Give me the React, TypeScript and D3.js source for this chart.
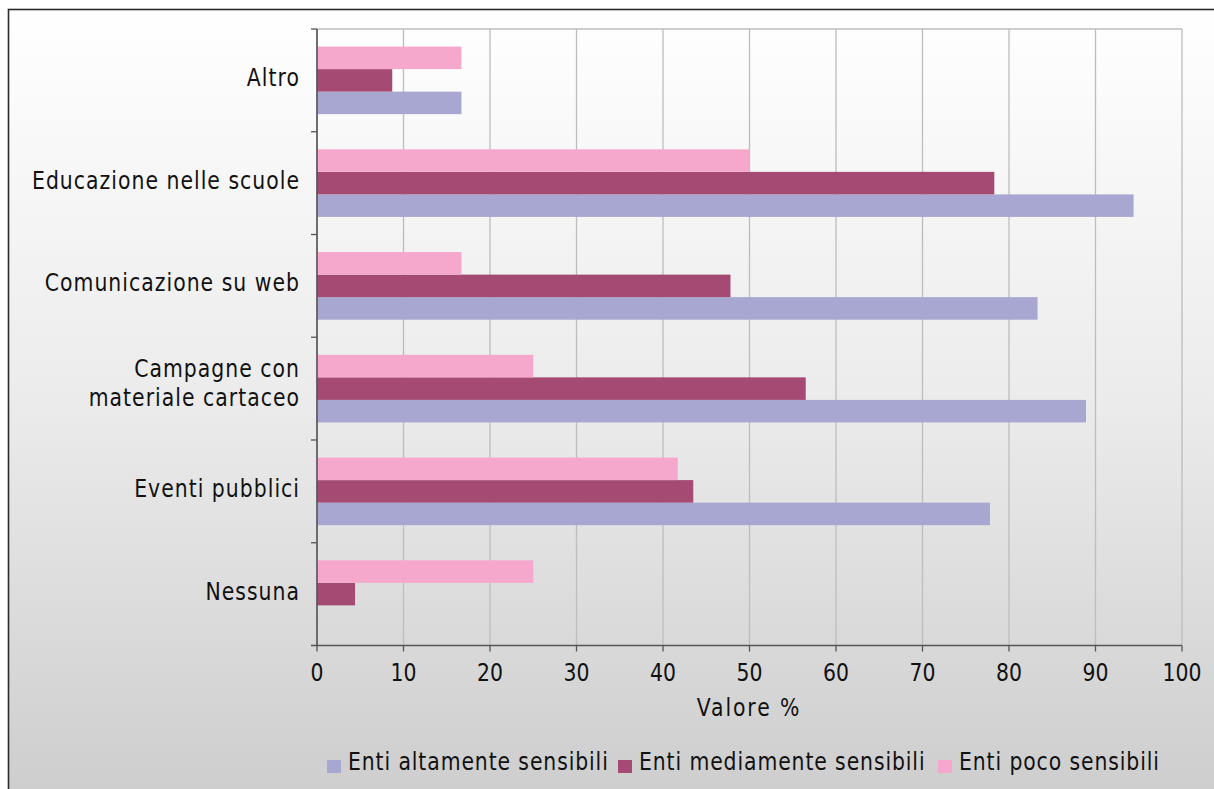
import React from "react";
import * as d3 from "d3";

const categories = [
  "Altro",
  "Educazione nelle scuole",
  "Comunicazione su web",
  "Campagne con\nmateriale cartaceo",
  "Eventi pubblici",
  "Nessuna",
];
const seriesNames = ["Enti altamente sensibili", "Enti mediamente sensibili", "Enti poco sensibili"];
const altamente = [16.7, 94.4, 83.3, 88.9, 77.8, 0];
const mediamente = [8.7, 78.3, 47.8, 56.5, 43.5, 4.4];
const poco = [16.7, 50, 16.7, 25, 41.7, 25];
const colors = ["#A7A7D1", "#A44A73", "#F5A8CC"];
const xTicks = [0, 10, 20, 30, 40, 50, 60, 70, 80, 90, 100];

const W = 1214;
const H = 789;
const left = 317;
const right = 1182;
const top = 29;
const bottom = 645.5;
const FONT = "'DejaVu Sans', Verdana, sans-serif";
const SX = 0.85;

function T(props: {
  x: number;
  y: number;
  anchor?: "start" | "middle" | "end";
  ls?: number;
  children: React.ReactNode;
}) {
  return (
    <text
      transform={`translate(${props.x},${props.y}) scale(${SX},1)`}
      textAnchor={props.anchor || "start"}
      fontSize={24}
      fill="#111"
      letterSpacing={props.ls || 0}
    >
      {props.children}
    </text>
  );
}

export default function App() {
  const x = d3.scaleLinear().domain([0, 100]).range([left, right]);
  const y = d3.scaleBand<string>().domain(categories).range([top, bottom]);
  // order within a group: pink top, mauve, lavender bottom
  const inner = d3
    .scaleBand<number>()
    .domain([2, 1, 0])
    .range([0, y.bandwidth()])
    .paddingInner(0)
    .paddingOuter(0.78);
  const series = [altamente, mediamente, poco];
  const legendX = [327, 618, 938];

  return (
    <svg
      width={W}
      height={H}
      style={{ position: "absolute", left: 0, top: 0, fontFamily: FONT }}
    >
      <defs>
        <linearGradient id="bg" x1="0" y1="0" x2="0" y2="1">
          <stop offset="0" stopColor="#FFFFFF" />
          <stop offset="0.5" stopColor="#EBEBEB" />
          <stop offset="1" stopColor="#CDCDCD" />
        </linearGradient>
      </defs>
      <rect x={0} y={0} width={W} height={H} fill="#FFFFFF" />
      <rect x={8.5} y={9.5} width={1212} height={792} fill="url(#bg)" stroke="#2b2b2b" strokeWidth={1.6} />

      {/* gridlines */}
      {xTicks.map((t) => (
        <line key={"g" + t} x1={x(t)} x2={x(t)} y1={top} y2={bottom} stroke="#BDBDBD" strokeWidth={1.3} />
      ))}
      <line x1={left} x2={right} y1={top} y2={top} stroke="#BDBDBD" strokeWidth={1.3} />

      {/* bars */}
      {categories.map((c, ci) =>
        series.map((vals, si) => (
          <rect
            key={c + si}
            x={x(0)}
            y={(y(c) as number) + (inner(si) as number)}
            width={x(vals[ci]) - x(0)}
            height={inner.bandwidth()}
            fill={colors[si]}
          />
        ))
      )}

      {/* axes */}
      <line x1={left} x2={left} y1={top} y2={bottom} stroke="#555" strokeWidth={1.6} />
      <line x1={left - 6} x2={right} y1={bottom} y2={bottom} stroke="#555" strokeWidth={1.6} />
      {categories.map((c) => (
        <line key={"yt" + c} x1={left - 6} x2={left} y1={y(c) as number} y2={y(c) as number} stroke="#555" strokeWidth={1.3} />
      ))}
      {xTicks.map((t) => (
        <g key={"xt" + t}>
          <line x1={x(t)} x2={x(t)} y1={bottom} y2={bottom + 6} stroke="#555" strokeWidth={1.3} />
          <T x={x(t)} y={681} anchor="middle">
            {t}
          </T>
        </g>
      ))}

      {/* category labels */}
      {categories.map((c) => {
        const lines = c.split("\n");
        const cy = (y(c) as number) + y.bandwidth() / 2;
        return lines.map((ln, i) => (
          <T
            key={c + i}
            x={300}
            y={lines.length > 1 ? cy + 3 + (i - (lines.length - 1) / 2) * 28.3 : cy + 5.6}
            anchor="end"
            ls={1.2}
          >
            {ln}
          </T>
        ));
      })}

      <T x={749} y={716} anchor="middle" ls={2.2}>
        Valore %
      </T>

      {/* legend */}
      {seriesNames.map((n, i) => (
        <g key={n}>
          <rect x={legendX[i]} y={760} width={14} height={13} fill={colors[i]} />
          <T x={legendX[i] + 21} y={770} ls={1.05}>
            {n}
          </T>
        </g>
      ))}
    </svg>
  );
}
